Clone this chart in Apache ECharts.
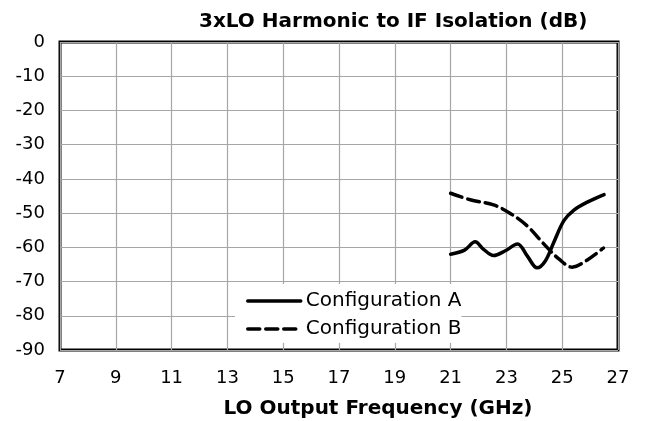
<!DOCTYPE html>
<html>
<head>
<meta charset="utf-8">
<script src="https://cdn.jsdelivr.net/npm/echarts@6/dist/echarts.min.js"></script>
<style>
html, body { margin: 0; padding: 0; background: #fff; }
#chart { width: 647px; height: 421px; }
</style>
</head>
<body>
<div id="chart"></div>
<script>
// LO frequency (GHz) / isolation (dB)
const configA = [
  [21.0, -62.0], [21.5, -60.8], [21.88, -58.4], [22.17, -60.5], [22.54, -62.4],
  [22.96, -61.0], [23.4, -59.0], [23.74, -62.4], [24.1, -66.0], [24.4, -63.9],
  [24.7, -58.5], [25.06, -52.2], [25.42, -49.1], [25.9, -46.8], [26.5, -44.6]
];
const configB = [
  [21.0, -44.2], [21.7, -46.1], [22.54, -47.6], [23.14, -50.1], [23.74, -53.7],
  [24.34, -59.0], [24.88, -63.4], [25.36, -65.8], [25.9, -63.7], [26.48, -60.2]
];
const seriesNames = ['Configuration A', 'Configuration B'];
const xRange = [7, 27, 2];
const yRange = [-90, 0, 10];

const chart = echarts.init(document.getElementById('chart'));
const font = 'DejaVu Sans';

chart.setOption({
  animation: false,
  backgroundColor: '#fff',
  title: {
    text: '3xLO Harmonic to IF Isolation (dB)',
    left: 199,
    top: 12,
    padding: 0,
    textStyle: { fontFamily: font, fontWeight: 'bold', fontSize: 20, color: '#000' }
  },
  grid: {
    left: 60, right: 29, top: 42, bottom: 71,
    outerBoundsMode: 'none',
    containLabel: false,
    show: true, borderColor: '#000', borderWidth: 3
  },
  legend: {
    orient: 'vertical',
    left: 235,
    top: 284,
    padding: [7, 0, 4, 11],
    backgroundColor: '#fff',
    itemWidth: 53,
    itemHeight: 14,
    itemGap: 8,
    itemStyle: { opacity: 0 },
    lineStyle: { width: 3.5 },
    textStyle: { fontFamily: font, fontSize: 20, color: '#000' },
    data: seriesNames
  },
  xAxis: {
    type: 'value',
    min: xRange[0], max: xRange[1], interval: xRange[2],
    name: 'LO Output Frequency (GHz)',
    nameLocation: 'middle',
    nameGap: 49,
    nameTextStyle: { fontFamily: font, fontWeight: 'bold', fontSize: 20, color: '#000', padding: [0, 0, 0, 78] },
    axisLine: { show: false },
    axisTick: { show: false },
    axisLabel: { fontFamily: font, fontSize: 18, color: '#000', margin: 19 },
    splitLine: { show: true, lineStyle: { color: '#a6a6a6', width: 1.2 } }
  },
  yAxis: {
    type: 'value',
    min: yRange[0], max: yRange[1], interval: yRange[2],
    axisLine: { show: false },
    axisTick: { show: false },
    axisLabel: { fontFamily: font, fontSize: 18, color: '#000', margin: 15 },
    splitLine: { show: true, lineStyle: { color: '#a6a6a6', width: 1.2 } }
  },
  series: [
    {
      name: seriesNames[0],
      type: 'line',
      data: configA,
      symbol: 'none',
      smooth: 0.35,
      lineStyle: { color: '#000', width: 3.5, cap: 'round' },
      itemStyle: { color: '#000' }
    },
    {
      name: seriesNames[1],
      type: 'line',
      data: configB,
      symbol: 'none',
      smooth: 0.35,
      lineStyle: { color: '#000', width: 3.5, type: [12, 6], cap: 'round' },
      itemStyle: { color: '#000' }
    }
  ]
});
</script>
</body>
</html>
